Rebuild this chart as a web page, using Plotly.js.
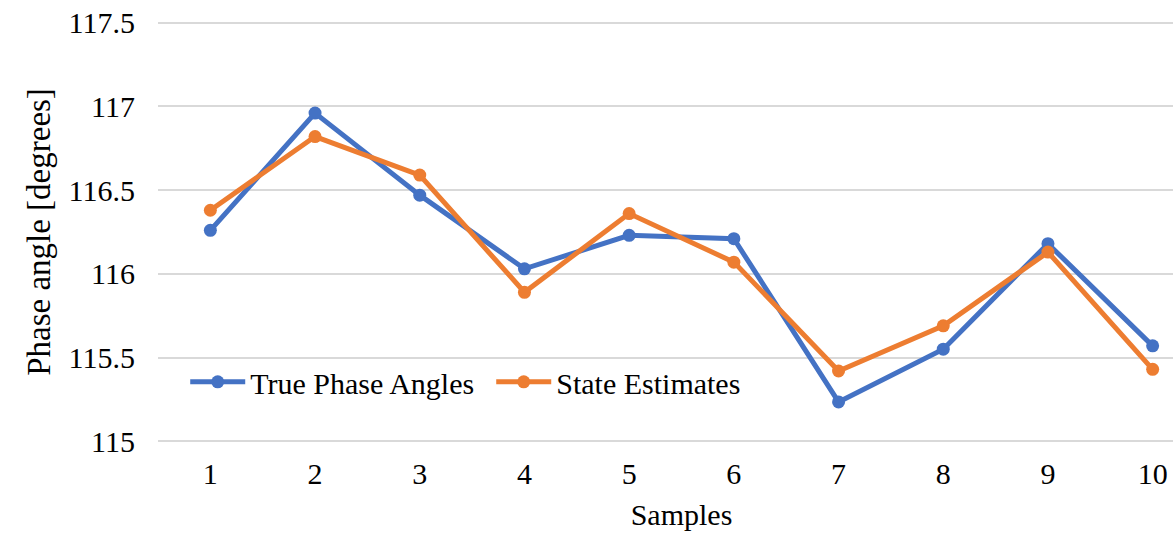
<!DOCTYPE html>
<html>
<head>
<meta charset="utf-8">
<script src="https://cdn.plot.ly/plotly-3.0.1.min.js"></script>
<style>
html, body { margin: 0; padding: 0; overflow: hidden; background: #fff; }
#chart { width: 1205px; height: 533px; }
</style>
</head>
<body>
<div id="chart"></div>
<script>
const samples = [1, 2, 3, 4, 5, 6, 7, 8, 9, 10];
const truePhase = [116.26, 116.96, 116.47, 116.03, 116.23, 116.21, 115.235, 115.55, 116.18, 115.57];
const stateEst = [116.38, 116.82, 116.59, 115.89, 116.36, 116.07, 115.42, 115.69, 116.13, 115.43];
const yTickVals = [115, 115.5, 116, 116.5, 117, 117.5];
const yTickText = ['115', '115.5', '116', '116.5', '117', '117.5'];

const FONT = '"Liberation Serif", "Times New Roman", serif';

const traces = [
  {
    x: samples, y: truePhase, name: 'True Phase Angles',
    type: 'scatter', mode: 'lines+markers',
    line: { color: '#4472C4', width: 5 },
    marker: { color: '#4472C4', size: 13 }
  },
  {
    x: samples, y: stateEst, name: 'State Estimates',
    type: 'scatter', mode: 'lines+markers',
    line: { color: '#ED7D31', width: 5 },
    marker: { color: '#ED7D31', size: 13 }
  }
];

const layout = {
  width: 1205, height: 533,
  margin: { l: 158, r: 0, t: 21, b: 90 },
  paper_bgcolor: '#fff', plot_bgcolor: '#fff',
  font: { family: FONT, color: '#000', size: 30 },
  showlegend: true,
  legend: {
    orientation: 'h', x: 0.026, y: 0.145, xanchor: 'left', yanchor: 'middle',
    font: { family: FONT, size: 30, color: '#000' },
    itemwidth: 55, entrywidth: 236, entrywidthmode: 'pixels',
    bgcolor: 'rgba(0,0,0,0)', traceorder: 'normal'
  },
  xaxis: {
    range: [0.5, 10.5], tickvals: samples, ticks: '', showgrid: false, zeroline: false,
    showline: false, tickfont: { family: FONT, size: 30 }, ticklabelstandoff: 10,
    title: { text: 'Samples', font: { family: FONT, size: 30 }, standoff: 14 }
  },
  yaxis: {
    range: [114.99, 117.51], tickvals: yTickVals, ticktext: yTickText, ticks: '',
    showgrid: true, gridcolor: '#d9d9d9', gridwidth: 2, zeroline: false, showline: false,
    tickfont: { family: FONT, size: 30 }, ticklabelstandoff: 22,
    title: { text: 'Phase angle [degrees]', font: { family: FONT, size: 33 }, standoff: 8 }
  }
};

Plotly.newPlot('chart', traces, layout, { displayModeBar: false, responsive: false });
</script>
</body>
</html>
